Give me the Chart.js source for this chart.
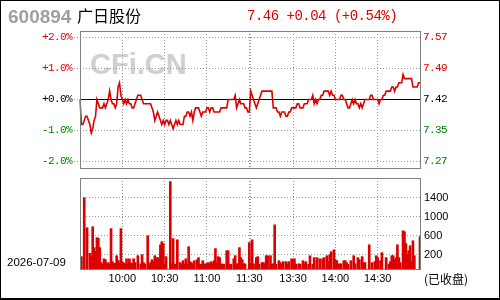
<!DOCTYPE html>
<html>
<head>
<meta charset="utf-8">
<script src="https://cdn.jsdelivr.net/npm/chart.js@4"></script>
<style>
  html, body { margin: 0; padding: 0; background: #fff; }
  #wrap { position: relative; width: 500px; height: 300px; overflow: hidden; background: #fff; }
  #wrap canvas { position: absolute; left: 0; top: 0; }
  .txt { position: absolute; white-space: nowrap; }
  #mark { left: 90px; top: 50px; font: bold 29px/29px 'Liberation Sans'; color: #d0d0d0; }
  #code { left: 8px; top: 7px; font: bold 19px/19px 'Liberation Sans'; color: #a0a0a0; }
  #name { left: 77px; top: 7px; font: 16px/16px 'Noto Sans CJK SC'; color: #000; }
  #quote { left: 247px; top: 9px; font: 14px/14px 'Liberation Mono'; letter-spacing: -0.5px; color: #dd0000; }
  #date { left: 7px; top: 256px; font: 11.5px/12px 'Liberation Sans'; color: #000; }
  #state { left: 424px; top: 273px; font: 12px/12px 'Noto Sans CJK SC'; color: #000; }
  #frame { position: absolute; left: 0; top: 0; width: 500px; height: 300px; box-sizing: border-box;
           border: 1px solid #000; border-bottom-width: 2px; }
</style>
</head>
<body>
<div id="wrap">
  <div class="txt" id="mark">CFi.CN</div>
  <canvas id="priceChart" width="500" height="300"></canvas>
  <canvas id="volChart" width="500" height="300"></canvas>
  <div class="txt" id="code"></div>
  <div class="txt" id="name"></div>
  <div class="txt" id="quote"></div>
  <div class="txt" id="date"></div>
  <div class="txt" id="state"></div>
  <div id="frame"></div>
</div>
<script>
// stock info
const stockCode = '600894';
const stockName = '广日股份';
const tradeDate = '2026-07-09';
const marketState = '(已收盘)';
const prevClose = 7.42;

// trading sessions and axis labels
const sessions = [['09:30', '11:30'], ['13:00', '15:00']];
const gridTimes = ['10:00', '10:30', '11:00', '11:30', '13:00', '13:30', '14:00', '14:30'];
const labelTimes = ['10:00', '10:30', '11:00', '11:30', '13:30', '14:00', '14:30'];
const pctTicks = [-2, -1, 0, 1, 2];
const volTicks = [200, 600, 1000, 1400];

// minute prices
const prices = [
  7.42,7.36,7.36,7.37,7.38,7.38,7.37,7.36,7.34,7.35,
  7.37,7.38,7.42,7.41,7.40,7.40,7.40,7.41,7.40,7.41,
  7.42,7.44,7.42,7.41,7.41,7.40,7.41,7.45,7.46,7.43,
  7.42,7.41,7.42,7.41,7.42,7.41,7.41,7.40,7.40,7.41,
  7.42,7.43,7.43,7.43,7.42,7.41,7.41,7.41,7.41,7.41,
  7.41,7.40,7.39,7.37,7.38,7.39,7.38,7.37,7.36,7.37,
  7.36,7.37,7.37,7.36,7.37,7.36,7.35,7.36,7.37,7.36,
  7.37,7.36,7.36,7.36,7.38,7.38,7.39,7.39,7.38,7.39,
  7.37,7.39,7.40,7.40,7.40,7.39,7.38,7.39,7.39,7.39,
  7.40,7.40,7.39,7.40,7.40,7.39,7.39,7.39,7.39,7.39,
  7.40,7.40,7.40,7.40,7.40,7.42,7.42,7.42,7.42,7.42,
  7.43,7.40,7.41,7.42,7.41,7.41,7.41,7.40,7.40,7.39,7.39,
  7.44,7.43,7.42,7.41,7.40,7.41,7.42,7.43,7.44,
  7.44,7.44,7.44,7.44,7.44,7.44,7.44,7.40,7.40,7.40,
  7.39,7.39,7.38,7.39,7.39,7.39,7.38,7.38,7.39,7.39,
  7.40,7.40,7.40,7.40,7.41,7.41,7.40,7.40,7.40,7.41,
  7.41,7.41,7.42,7.42,7.42,7.43,7.41,7.42,7.41,7.42,
  7.42,7.43,7.43,7.44,7.44,7.44,7.44,7.43,7.44,7.43,
  7.43,7.42,7.42,7.42,7.42,7.43,7.43,7.42,7.42,7.41,
  7.40,7.40,7.41,7.42,7.41,7.42,7.41,7.41,7.40,7.41,
  7.40,7.41,7.42,7.42,7.42,7.42,7.43,7.43,7.42,7.42,
  7.42,7.42,7.41,7.42,7.42,7.43,7.43,7.44,7.44,7.44,
  7.44,7.45,7.45,7.44,7.45,7.45,7.46,7.46,7.46,7.48,
  7.47,7.47,7.47,7.47,7.47,7.47,7.45,7.45,7.45,7.45,
  7.46,7.46
];

// minute volumes (null = no trade)
const volumes = [
  null,160,null,1400,null,770,null,230,160,790,
  350,265,560,545,350,35,0,115,95,10,
  35,0,750,55,10,20,180,80,35,750,
  55,25,5,115,0,115,25,5,115,35,
  null,180,null,5,200,35,5,null,600,0,
  35,95,55,180,140,140,115,410,475,435,
  0,160,null,null,1740,10,540,0,0,515,
  null,35,0,75,0,115,0,370,55,35,
  0,75,null,95,140,0,0,75,0,10,
  10,35,10,55,10,75,330,35,160,140,
  10,0,0,null,285,285,0,0,null,115,
  180,10,10,350,140,95,10,10,null,null,
  455,10,515,10,null,140,160,0,null,35,
  35,10,180,180,null,180,0,10,830,0,
  null,75,35,0,55,null,55,0,55,null,
  115,95,115,0,null,10,0,null,75,10,
  55,null,0,180,null,0,140,null,140,null,
  115,null,115,140,null,180,55,200,265,null,
  305,95,75,0,10,10,null,75,75,35,
  0,null,75,null,180,10,null,140,95,null,
  160,35,35,null,null,410,null,35,null,55,
  180,140,null,75,245,null,null,140,null,0,
  55,180,180,95,140,410,140,35,null,705,
  685,435,200,285,390,55,495,180,null,null,
  null,580
];

const upColor = '#dd0000';
const downColor = '#008000';
const gridColor = '#999999';
const frameColor = '#808080';
const pctRange = 2.21;
const volMin = -100;
const volMax = 1816;

// minute labels for both sessions
const times = [];
sessions.forEach(([start, end]) => {
  let [h, m] = start.split(':').map(Number);
  for (;;) {
    const t = String(h).padStart(2, '0') + ':' + String(m).padStart(2, '0');
    times.push(t);
    if (t === end) break;
    m++;
    if (m === 60) { m = 0; h++; }
  }
});

// header texts
const lastPrice = prices[prices.length - 1];
const chg = lastPrice - prevClose;
const sign = chg >= 0 ? '+' : '';
document.getElementById('code').textContent = stockCode;
document.getElementById('name').textContent = stockName;
document.getElementById('quote').textContent =
  lastPrice.toFixed(2) + ' ' + sign + chg.toFixed(2) + ' (' + sign + (chg / prevClose * 100).toFixed(2) + '%)';
document.getElementById('date').textContent = tradeDate;
document.getElementById('state').textContent = marketState;

function signColor(d) {
  if (d > 1e-9) return upColor;
  if (d < -1e-9) return downColor;
  return '#000';
}

const gridTicks = s => { s.ticks = gridTimes.map(t => ({ value: times.indexOf(t) })); };

// frame around each panel + black zero line
const panelFrame = {
  id: 'panelFrame',
  beforeDraw(chart, args, opts) {
    chart.ctx.letterSpacing = opts.spacing || '0px';
  },
  beforeDatasetsDraw(chart, args, opts) {
    if (!opts.zeroAxis) return;
    const { ctx, chartArea: a } = chart;
    const y = Math.floor(chart.scales[opts.zeroAxis].getPixelForValue(0)) + 0.5;
    ctx.save();
    ctx.strokeStyle = '#000';
    ctx.lineWidth = 1;
    ctx.beginPath();
    ctx.moveTo(a.left, y);
    ctx.lineTo(a.right, y);
    ctx.stroke();
    ctx.restore();
  },
  afterDraw(chart) {
    const { ctx, chartArea: a } = chart;
    ctx.save();
    ctx.strokeStyle = frameColor;
    ctx.lineWidth = 1;
    ctx.strokeRect(Math.round(a.left) + 0.5, Math.round(a.top) + 0.5, Math.round(a.width), Math.round(a.height));
    ctx.restore();
  }
};

const monoFont = { family: 'Liberation Mono', size: 11 };
const sansFont = { family: 'Liberation Sans', size: 11 };

new Chart(document.getElementById('priceChart'), {
  type: 'line',
  data: {
    labels: times,
    datasets: [{
      data: prices,
      yAxisID: 'price',
      borderColor: upColor,
      borderWidth: 1.6,
      pointRadius: 0,
      tension: 0,
      fill: false
    }]
  },
  options: {
    responsive: false,
    devicePixelRatio: 1,
    animation: false,
    events: [],
    layout: { padding: { left: 0, right: 0, top: 31, bottom: 132 } },
    plugins: {
      legend: { display: false },
      tooltip: { enabled: false },
      panelFrame: { zeroAxis: 'pct', spacing: '-0.6px' }
    },
    scales: {
      x: {
        type: 'category',
        offset: false,
        afterBuildTicks: gridTicks,
        afterFit: s => { s.height = 0; },
        grid: { color: gridColor, drawTicks: false, offset: false },
        border: { display: false, dash: [1, 2] },
        ticks: { display: false }
      },
      pct: {
        position: 'left',
        min: -pctRange,
        max: pctRange,
        afterBuildTicks: s => { s.ticks = pctTicks.map(v => ({ value: v })); },
        afterFit: s => { s.width = 80; },
        grid: { color: gridColor, tickLength: 6, tickColor: gridColor, tickBorderDash: [1, 2] },
        border: { display: false, dash: [1, 2] },
        ticks: {
          padding: 2,
          font: monoFont,
          color: c => signColor(c.tick.value),
          callback: v => (v >= 0 ? '+' : '') + v.toFixed(1) + '%'
        }
      },
      price: {
        position: 'right',
        min: prevClose * (1 - pctRange / 100),
        max: prevClose * (1 + pctRange / 100),
        afterBuildTicks: s => { s.ticks = pctTicks.map(p => ({ value: prevClose * (1 + p / 100) })); },
        afterFit: s => { s.width = 80; },
        grid: { display: false, drawTicks: false },
        border: { display: false },
        ticks: {
          padding: 3,
          font: monoFont,
          color: c => signColor(c.tick.value - prevClose),
          callback: v => v.toFixed(2)
        }
      }
    }
  },
  plugins: [panelFrame]
});

new Chart(document.getElementById('volChart'), {
  type: 'bar',
  data: {
    labels: times,
    datasets: [{
      data: volumes,
      yAxisID: 'vol',
      backgroundColor: upColor,
      borderWidth: 0,
      barThickness: 2,
      base: volMin
    }]
  },
  options: {
    responsive: false,
    devicePixelRatio: 1,
    animation: false,
    events: [],
    layout: { padding: { left: 80, right: 0, top: 178, bottom: 11 } },
    plugins: {
      legend: { display: false },
      tooltip: { enabled: false },
      panelFrame: {}
    },
    scales: {
      x: {
        type: 'category',
        offset: false,
        afterBuildTicks: gridTicks,
        afterFit: s => { s.height = 20; },
        grid: { color: gridColor, drawTicks: false, offset: false },
        border: { display: false, dash: [1, 2] },
        ticks: {
          autoSkip: false,
          maxRotation: 0,
          padding: 3,
          font: sansFont,
          color: '#000',
          callback: v => labelTimes.includes(times[v]) ? times[v] : ''
        }
      },
      vol: {
        position: 'right',
        min: volMin,
        max: volMax,
        afterBuildTicks: s => { s.ticks = volTicks.map(v => ({ value: v })); },
        afterFit: s => { s.width = 80; },
        grid: { color: gridColor, drawTicks: false },
        border: { display: false, dash: [1, 2] },
        ticks: { padding: 4, font: sansFont, color: '#000', callback: v => String(v) }
      }
    }
  },
  plugins: [panelFrame]
});
</script>
</body>
</html>
